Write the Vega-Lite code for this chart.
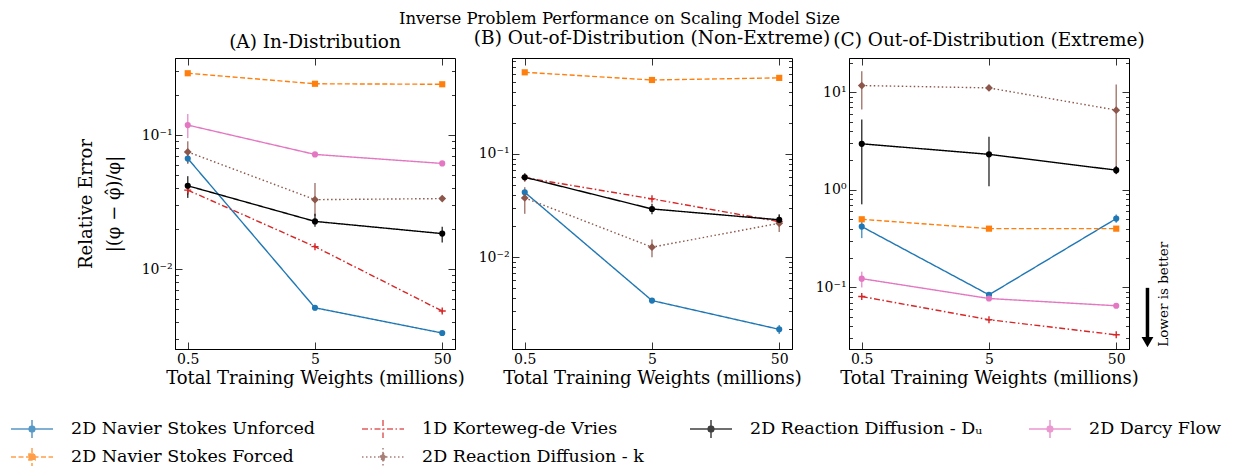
{
  "$schema": "https://vega.github.io/schema/vega-lite/v6.json",
  "padding": {"left": 17, "top": 11, "right": 5, "bottom": 2},
  "title": {"text": "Inverse Problem Performance on Scaling Model Size", "anchor": "middle", "fontSize": 16.5, "offset": 1},
  "data": {"values": [
    {"p":"A","s":"2D Navier Stokes Unforced","w":0.5,"v":0.067,"lo":0.062,"hi":0.072},
    {"p":"A","s":"2D Navier Stokes Unforced","w":5,"v":0.00514,"lo":0.0049,"hi":0.0054},
    {"p":"A","s":"2D Navier Stokes Unforced","w":50,"v":0.00333,"lo":0.0032,"hi":0.00345},
    {"p":"A","s":"2D Navier Stokes Forced","w":0.5,"v":0.29,"lo":0.285,"hi":0.295},
    {"p":"A","s":"2D Navier Stokes Forced","w":5,"v":0.242,"lo":0.238,"hi":0.246},
    {"p":"A","s":"2D Navier Stokes Forced","w":50,"v":0.24,"lo":0.236,"hi":0.244},
    {"p":"A","s":"1D Korteweg-de Vries","w":0.5,"v":0.0389,"lo":0.036,"hi":0.042},
    {"p":"A","s":"1D Korteweg-de Vries","w":5,"v":0.0147,"lo":0.0144,"hi":0.015},
    {"p":"A","s":"1D Korteweg-de Vries","w":50,"v":0.00486,"lo":0.0047,"hi":0.005},
    {"p":"A","s":"2D Reaction Diffusion - k","w":0.5,"v":0.075,"lo":0.061,"hi":0.09},
    {"p":"A","s":"2D Reaction Diffusion - k","w":5,"v":0.033,"lo":0.0249,"hi":0.044},
    {"p":"A","s":"2D Reaction Diffusion - k","w":50,"v":0.0336,"lo":0.0328,"hi":0.0344},
    {"p":"A","s":"2D Reaction Diffusion - Dᵤ","w":0.5,"v":0.0419,"lo":0.034,"hi":0.0494},
    {"p":"A","s":"2D Reaction Diffusion - Dᵤ","w":5,"v":0.0227,"lo":0.0207,"hi":0.0259},
    {"p":"A","s":"2D Reaction Diffusion - Dᵤ","w":50,"v":0.0184,"lo":0.0158,"hi":0.0207},
    {"p":"A","s":"2D Darcy Flow","w":0.5,"v":0.119,"lo":0.095,"hi":0.144},
    {"p":"A","s":"2D Darcy Flow","w":5,"v":0.0718,"lo":0.07,"hi":0.0736},
    {"p":"A","s":"2D Darcy Flow","w":50,"v":0.0615,"lo":0.06,"hi":0.063},
    {"p":"B","s":"2D Navier Stokes Unforced","w":0.5,"v":0.0425,"lo":0.04,"hi":0.045},
    {"p":"B","s":"2D Navier Stokes Unforced","w":5,"v":0.0038,"lo":0.0037,"hi":0.0039},
    {"p":"B","s":"2D Navier Stokes Unforced","w":50,"v":0.002,"lo":0.0018,"hi":0.0022},
    {"p":"B","s":"2D Navier Stokes Forced","w":0.5,"v":0.617,"lo":0.6,"hi":0.63},
    {"p":"B","s":"2D Navier Stokes Forced","w":5,"v":0.52,"lo":0.51,"hi":0.53},
    {"p":"B","s":"2D Navier Stokes Forced","w":50,"v":0.545,"lo":0.535,"hi":0.555},
    {"p":"B","s":"1D Korteweg-de Vries","w":0.5,"v":0.059,"lo":0.056,"hi":0.062},
    {"p":"B","s":"1D Korteweg-de Vries","w":5,"v":0.0367,"lo":0.0357,"hi":0.0377},
    {"p":"B","s":"1D Korteweg-de Vries","w":50,"v":0.0221,"lo":0.0215,"hi":0.0227},
    {"p":"B","s":"2D Reaction Diffusion - k","w":0.5,"v":0.0375,"lo":0.0263,"hi":0.0476},
    {"p":"B","s":"2D Reaction Diffusion - k","w":5,"v":0.0125,"lo":0.01,"hi":0.0148},
    {"p":"B","s":"2D Reaction Diffusion - k","w":50,"v":0.0213,"lo":0.0175,"hi":0.0255},
    {"p":"B","s":"2D Reaction Diffusion - Dᵤ","w":0.5,"v":0.0594,"lo":0.054,"hi":0.065},
    {"p":"B","s":"2D Reaction Diffusion - Dᵤ","w":5,"v":0.0293,"lo":0.026,"hi":0.033},
    {"p":"B","s":"2D Reaction Diffusion - Dᵤ","w":50,"v":0.023,"lo":0.0205,"hi":0.026},
    {"p":"C","s":"2D Navier Stokes Unforced","w":0.5,"v":0.42,"lo":0.32,"hi":0.5},
    {"p":"C","s":"2D Navier Stokes Unforced","w":5,"v":0.084,"lo":0.08,"hi":0.088},
    {"p":"C","s":"2D Navier Stokes Unforced","w":50,"v":0.507,"lo":0.46,"hi":0.56},
    {"p":"C","s":"2D Navier Stokes Forced","w":0.5,"v":0.499,"lo":0.49,"hi":0.51},
    {"p":"C","s":"2D Navier Stokes Forced","w":5,"v":0.4,"lo":0.393,"hi":0.407},
    {"p":"C","s":"2D Navier Stokes Forced","w":50,"v":0.4,"lo":0.393,"hi":0.407},
    {"p":"C","s":"1D Korteweg-de Vries","w":0.5,"v":0.0807,"lo":0.079,"hi":0.0825},
    {"p":"C","s":"1D Korteweg-de Vries","w":5,"v":0.0467,"lo":0.0458,"hi":0.0476},
    {"p":"C","s":"1D Korteweg-de Vries","w":50,"v":0.0327,"lo":0.032,"hi":0.0334},
    {"p":"C","s":"2D Reaction Diffusion - k","w":0.5,"v":11.7,"lo":6.65,"hi":16.4},
    {"p":"C","s":"2D Reaction Diffusion - k","w":5,"v":11.07,"lo":10.7,"hi":11.5},
    {"p":"C","s":"2D Reaction Diffusion - k","w":50,"v":6.55,"lo":1.44,"hi":12.0},
    {"p":"C","s":"2D Reaction Diffusion - Dᵤ","w":0.5,"v":2.96,"lo":0.71,"hi":5.25},
    {"p":"C","s":"2D Reaction Diffusion - Dᵤ","w":5,"v":2.31,"lo":1.09,"hi":3.49},
    {"p":"C","s":"2D Reaction Diffusion - Dᵤ","w":50,"v":1.59,"lo":1.45,"hi":1.75},
    {"p":"C","s":"2D Darcy Flow","w":0.5,"v":0.123,"lo":0.1,"hi":0.145},
    {"p":"C","s":"2D Darcy Flow","w":5,"v":0.077,"lo":0.074,"hi":0.08},
    {"p":"C","s":"2D Darcy Flow","w":50,"v":0.0649,"lo":0.063,"hi":0.067}
  ]},
  "bounds": "flush",
  "spacing": 57,
  "hconcat": [
    {
      "width": 280, "height": 291,
      "title": "(A) In-Distribution",
      "transform": [{"filter": "datum.p == 'A'"}],
      "layer": [
        {
          "mark": {"type": "rule", "strokeWidth": 1.5, "opacity": 0.75},
          "encoding": {
            "x": {"field": "w", "type": "quantitative", "scale": {"type": "log", "domain": [0.397, 63], "nice": false},
                  "axis": {"orient": "bottom", "values": [0.5, 5, 50], "format": "~g", "tickSize": -7, "labelPadding": 10, "title": "Total Training Weights (millions)", "titlePadding": 3}},
            "y": {"field": "lo", "type": "quantitative", "scale": {"type": "log", "domain": [0.00253, 0.377], "nice": false},
                  "axis": {"orient": "left", "values": [0.003,0.004,0.005,0.006,0.007,0.008,0.009,0.01,0.02,0.03,0.04,0.05,0.06,0.07,0.08,0.09,0.1,0.2,0.3],
                           "labelExpr": "datum.value == 0.001 ? '10⁻³' : datum.value == 0.01 ? '10⁻²' : datum.value == 0.1 ? '10⁻¹' : datum.value == 1 ? '10⁰' : datum.value == 10 ? '10¹' : ''",
                           "tickSize": {"condition": {"test": "datum.value == 0.01 || datum.value == 0.1", "value": -7}, "value": -3.5},
                           "labelPadding": 10, "title": ["Relative Error", "|(φ − φ̂)/φ|"], "titleFontSize": 18, "titlePadding": 18, "titleLineHeight": 28}},
            "y2": {"field": "hi"},
            "color": {"field": "s", "type": "nominal",
                      "scale": {"domain": ["2D Navier Stokes Unforced","1D Korteweg-de Vries","2D Reaction Diffusion - Dᵤ","2D Darcy Flow","2D Navier Stokes Forced","2D Reaction Diffusion - k"],
                                "range": ["#1f77b4","#d62728","#000000","#e377c2","#ff7f0e","#8c564b"]},
                      "legend": {"title": null, "orient": "none", "legendX": -158, "legendY": 356, "padding": 0, "columns": 4, "direction": "horizontal", "labelFontSize": 17.5, "labelLimit": 400,
                                 "symbolSize": 784, "symbolStrokeWidth": 1.5, "labelOffset": 24, "columnPadding": 43, "rowPadding": 1,
                                 "symbolType": {"expr": "datum.value == '2D Navier Stokes Forced' ? 'M-1.5,0H1.5M0,-0.64V0.64M-0.22,-0.22L0.22,-0.22L0.22,0.22L-0.22,0.22Z' : datum.value == '1D Korteweg-de Vries' ? 'M-1.5,0H1.5M0,-0.64V0.64' : datum.value == '2D Reaction Diffusion - k' ? 'M-1.5,0H1.5M0,-0.64V0.64M0,-0.3L0.22,0L0,0.3L-0.22,0Z' : 'M-1.5,0H1.5M0,-0.64V0.64M0.22,0L0.156,0.156L0,0.22L-0.156,0.156L-0.22,0L-0.156,-0.156L0,-0.22L0.156,-0.156Z'"},
                                 "encode": {"symbols": {"update": {
                                   "strokeDash": {"signal": "datum.value == '2D Navier Stokes Forced' ? [4,2] : datum.value == '1D Korteweg-de Vries' ? [6,2,1.5,2] : datum.value == '2D Reaction Diffusion - k' ? [1.5,2] : [1,0]"},
                                   "fill": {"scale": "color", "field": "value"},
                                   "stroke": {"scale": "color", "field": "value"},
                                   "opacity": {"value": 1}
                                 }}}}}
          }
        },
        {
          "mark": {"type": "line", "strokeWidth": 1.4},
          "encoding": {
            "x": {"field": "w", "type": "quantitative", "axis": null},
            "y": {"field": "v", "type": "quantitative", "axis": null},
            "color": {"field": "s", "type": "nominal"},
            "strokeDash": {"field": "s", "type": "nominal", "legend": null,
                           "scale": {"domain": ["2D Navier Stokes Unforced","1D Korteweg-de Vries","2D Reaction Diffusion - Dᵤ","2D Darcy Flow","2D Navier Stokes Forced","2D Reaction Diffusion - k"],
                                     "range": [[1,0],[6,2.5,1.5,2.5],[1,0],[1,0],[5,2.5],[1.5,2.5]]}}
          }
        },
        {
          "mark": {"type": "point", "filled": true, "opacity": 1, "strokeWidth": 1.4,
                   "size": {"expr": "datum.s == '2D Reaction Diffusion - k' ? 60 : datum.s == '1D Korteweg-de Vries' ? 50 : 38"},
                   "shape": {"expr": "datum.s == '2D Navier Stokes Forced' ? 'square' : datum.s == '1D Korteweg-de Vries' ? 'M-1,0H1M0,-1V1' : datum.s == '2D Reaction Diffusion - k' ? 'diamond' : 'circle'"},
                   "stroke": {"expr": "datum.s == '1D Korteweg-de Vries' ? '#d62728' : null"}},
          "encoding": {
            "x": {"field": "w", "type": "quantitative", "axis": {"orient": "top", "values": [0.5, 5, 50], "labels": false, "title": null, "tickSize": -7, "domain": false}},
            "y": {"field": "v", "type": "quantitative", "axis": {"orient": "right", "values": [0.003,0.004,0.005,0.006,0.007,0.008,0.009,0.01,0.02,0.03,0.04,0.05,0.06,0.07,0.08,0.09,0.1,0.2,0.3], "labels": false, "title": null, "domain": false,
                  "tickSize": {"condition": {"test": "datum.value == 0.01 || datum.value == 0.1", "value": -7}, "value": -3.5}}},
            "color": {"field": "s", "type": "nominal"}
          }
        }
      ],
      "resolve": {"axis": {"x": "independent", "y": "independent"}}
    },
    {
      "width": 280, "height": 291,
      "title": "(B) Out-of-Distribution (Non-Extreme)",
      "transform": [{"filter": "datum.p == 'B'"}],
      "layer": [
        {
          "mark": {"type": "rule", "strokeWidth": 1.5, "opacity": 0.75},
          "encoding": {
            "x": {"field": "w", "type": "quantitative", "scale": {"type": "log", "domain": [0.397, 63], "nice": false},
                  "axis": {"orient": "bottom", "values": [0.5, 5, 50], "format": "~g", "tickSize": -7, "labelPadding": 10, "title": "Total Training Weights (millions)", "titlePadding": 3}},
            "y": {"field": "lo", "type": "quantitative", "scale": {"type": "log", "domain": [0.00129, 0.849], "nice": false},
                  "axis": {"orient": "left", "values": [0.002,0.003,0.004,0.005,0.006,0.007,0.008,0.009,0.01,0.02,0.03,0.04,0.05,0.06,0.07,0.08,0.09,0.1,0.2,0.3,0.4,0.5,0.6,0.7,0.8],
                           "labelExpr": "datum.value == 0.001 ? '10⁻³' : datum.value == 0.01 ? '10⁻²' : datum.value == 0.1 ? '10⁻¹' : datum.value == 1 ? '10⁰' : datum.value == 10 ? '10¹' : ''",
                           "tickSize": {"condition": {"test": "datum.value == 0.01 || datum.value == 0.1", "value": -7}, "value": -3.5},
                           "labelPadding": 10, "title": null}},
            "y2": {"field": "hi"},
            "color": {"field": "s", "type": "nominal"}
          }
        },
        {
          "mark": {"type": "line", "strokeWidth": 1.4},
          "encoding": {
            "x": {"field": "w", "type": "quantitative", "axis": null},
            "y": {"field": "v", "type": "quantitative", "axis": null},
            "color": {"field": "s", "type": "nominal"},
            "strokeDash": {"field": "s", "type": "nominal", "legend": null}
          }
        },
        {
          "mark": {"type": "point", "filled": true, "opacity": 1, "strokeWidth": 1.4,
                   "size": {"expr": "datum.s == '2D Reaction Diffusion - k' ? 60 : datum.s == '1D Korteweg-de Vries' ? 50 : 38"},
                   "shape": {"expr": "datum.s == '2D Navier Stokes Forced' ? 'square' : datum.s == '1D Korteweg-de Vries' ? 'M-1,0H1M0,-1V1' : datum.s == '2D Reaction Diffusion - k' ? 'diamond' : 'circle'"},
                   "stroke": {"expr": "datum.s == '1D Korteweg-de Vries' ? '#d62728' : null"}},
          "encoding": {
            "x": {"field": "w", "type": "quantitative", "axis": {"orient": "top", "values": [0.5, 5, 50], "labels": false, "title": null, "tickSize": -7, "domain": false}},
            "y": {"field": "v", "type": "quantitative", "axis": {"orient": "right", "values": [0.002,0.003,0.004,0.005,0.006,0.007,0.008,0.009,0.01,0.02,0.03,0.04,0.05,0.06,0.07,0.08,0.09,0.1,0.2,0.3,0.4,0.5,0.6,0.7,0.8], "labels": false, "title": null, "domain": false,
                  "tickSize": {"condition": {"test": "datum.value == 0.01 || datum.value == 0.1", "value": -7}, "value": -3.5}}},
            "color": {"field": "s", "type": "nominal"}
          }
        }
      ],
      "resolve": {"axis": {"x": "independent", "y": "independent"}}
    },
    {
      "width": 280, "height": 291,
      "title": "(C) Out-of-Distribution (Extreme)",
      "layer": [
        {
          "transform": [{"filter": "datum.p == 'C'"}],
          "mark": {"type": "rule", "strokeWidth": 1.5, "opacity": 0.75},
          "encoding": {
            "x": {"field": "w", "type": "quantitative", "scale": {"type": "log", "domain": [0.397, 63], "nice": false},
                  "axis": {"orient": "bottom", "values": [0.5, 5, 50], "format": "~g", "tickSize": -7, "labelPadding": 10, "title": "Total Training Weights (millions)", "titlePadding": 3}},
            "y": {"field": "lo", "type": "quantitative", "scale": {"type": "log", "domain": [0.0234, 22.4], "nice": false},
                  "axis": {"orient": "left", "values": [0.03,0.04,0.05,0.06,0.07,0.08,0.09,0.1,0.2,0.3,0.4,0.5,0.6,0.7,0.8,0.9,1,2,3,4,5,6,7,8,9,10,20],
                           "labelExpr": "datum.value == 0.001 ? '10⁻³' : datum.value == 0.01 ? '10⁻²' : datum.value == 0.1 ? '10⁻¹' : datum.value == 1 ? '10⁰' : datum.value == 10 ? '10¹' : ''",
                           "tickSize": {"condition": {"test": "datum.value == 0.1 || datum.value == 1 || datum.value == 10", "value": -7}, "value": -3.5},
                           "labelPadding": 10, "title": null}},
            "y2": {"field": "hi"},
            "color": {"field": "s", "type": "nominal"}
          }
        },
        {
          "transform": [{"filter": "datum.p == 'C'"}],
          "mark": {"type": "line", "strokeWidth": 1.4},
          "encoding": {
            "x": {"field": "w", "type": "quantitative", "axis": null},
            "y": {"field": "v", "type": "quantitative", "axis": null},
            "color": {"field": "s", "type": "nominal"},
            "strokeDash": {"field": "s", "type": "nominal", "legend": null}
          }
        },
        {
          "transform": [{"filter": "datum.p == 'C'"}],
          "mark": {"type": "point", "filled": true, "opacity": 1, "strokeWidth": 1.4,
                   "size": {"expr": "datum.s == '2D Reaction Diffusion - k' ? 60 : datum.s == '1D Korteweg-de Vries' ? 50 : 38"},
                   "shape": {"expr": "datum.s == '2D Navier Stokes Forced' ? 'square' : datum.s == '1D Korteweg-de Vries' ? 'M-1,0H1M0,-1V1' : datum.s == '2D Reaction Diffusion - k' ? 'diamond' : 'circle'"},
                   "stroke": {"expr": "datum.s == '1D Korteweg-de Vries' ? '#d62728' : null"}},
          "encoding": {
            "x": {"field": "w", "type": "quantitative", "axis": {"orient": "top", "values": [0.5, 5, 50], "labels": false, "title": null, "tickSize": -7, "domain": false}},
            "y": {"field": "v", "type": "quantitative", "axis": {"orient": "right", "values": [0.03,0.04,0.05,0.06,0.07,0.08,0.09,0.1,0.2,0.3,0.4,0.5,0.6,0.7,0.8,0.9,1,2,3,4,5,6,7,8,9,10,20], "labels": false, "title": null, "domain": false,
                  "tickSize": {"condition": {"test": "datum.value == 0.1 || datum.value == 1 || datum.value == 10", "value": -7}, "value": -3.5}}},
            "color": {"field": "s", "type": "nominal"}
          }
        },
        {
          "data": {"values": [{"note": "Lower is better"}]},
          "mark": {"type": "rule", "strokeWidth": 3.5, "color": "black"},
          "encoding": {
            "x": {"datum": 88, "type": "quantitative", "axis": null},
            "y": {"datum": 0.099, "type": "quantitative", "axis": null},
            "y2": {"datum": 0.03}
          }
        },
        {
          "data": {"values": [{"note": "Lower is better"}]},
          "mark": {"type": "point", "shape": "triangle-down", "filled": true, "color": "black", "size": 140, "opacity": 1},
          "encoding": {
            "x": {"datum": 88, "type": "quantitative", "axis": null},
            "y": {"datum": 0.0275, "type": "quantitative", "axis": null}
          }
        },
        {
          "data": {"values": [{"note": "Lower is better"}]},
          "mark": {"type": "text", "angle": 270, "fontSize": 13.5, "color": "black", "align": "center", "baseline": "middle"},
          "encoding": {
            "x": {"datum": 118, "type": "quantitative", "axis": null},
            "y": {"datum": 0.085, "type": "quantitative", "axis": null},
            "text": {"field": "note"}
          }
        }
      ],
      "resolve": {"axis": {"x": "independent", "y": "independent"}}
    }
  ],
  "config": {
    "font": "DejaVu Serif",
    "view": {"stroke": "black", "strokeWidth": 1},
    "axis": {"grid": false, "domainColor": "black", "domainWidth": 1, "tickColor": "black", "tickWidth": 0.8, "labelColor": "black", "labelFontSize": 14, "titleFontSize": 18, "titleFontWeight": "normal", "titleColor": "black", "labelOverlap": false, "labelBound": false, "labelFlush": false, "labelFont": "DejaVu Serif", "titleFont": "DejaVu Serif"},
    "title": {"fontSize": 18.5, "fontWeight": "normal", "color": "black", "offset": 6, "font": "DejaVu Serif"},
    "legend": {"labelFont": "DejaVu Serif", "labelColor": "black"}
  }
}
